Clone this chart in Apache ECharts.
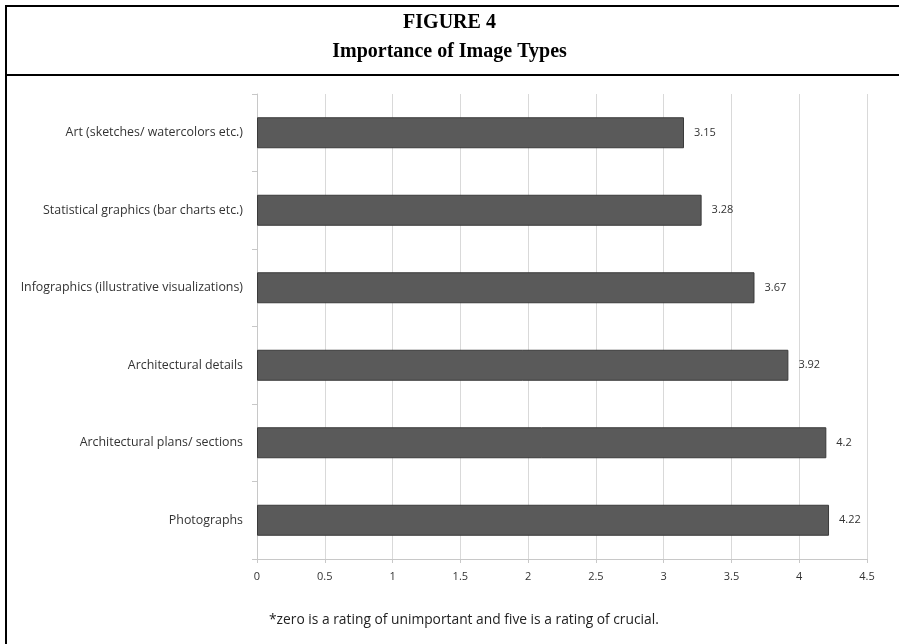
<!DOCTYPE html>
<html><head><meta charset="utf-8">
<script src="https://cdn.jsdelivr.net/npm/echarts@6/dist/echarts.min.js"></script>
<style>html,body{margin:0;padding:0;background:#fff}#c{width:899px;height:644px}</style>
</head><body><div id="c"></div>
<script>
const categories = [
  "Art (sketches/ watercolors etc.)",
  "Statistical graphics (bar charts etc.)",
  "Infographics (illustrative visualizations)",
  "Architectural details",
  "Architectural plans/ sections",
  "Photographs"
];
const values = [3.15, 3.28, 3.67, 3.92, 4.2, 4.22];
const xTicks = { min: 0, max: 4.5, interval: 0.5 };
const titleLine1 = "FIGURE 4";
const titleLine2 = "Importance of Image Types";
const footnote = "*zero is a rating of unimportant and five is a rating of crucial.";

const chart = echarts.init(document.getElementById('c'), null, {renderer: 'canvas'});
const labelFont = '"Open Sans", "Liberation Sans", sans-serif';
chart.setOption({
  animation: false,
  backgroundColor: '#fff',
  title: [
    { text: titleLine1, left: 'center', top: 8,
      textStyle: { fontFamily: '"Liberation Serif", serif', fontWeight: 'bold', fontSize: 20, color: '#000' } },
    { text: titleLine2, left: 'center', top: 37,
      textStyle: { fontFamily: '"Liberation Serif", serif', fontWeight: 'bold', fontSize: 20, color: '#000' } },
    { text: footnote, left: 264, top: 608,
      textStyle: { fontFamily: labelFont, fontWeight: 'normal', fontSize: 13.8, color: '#222' } }
  ],
  graphic: [
    { type: 'line', shape: { x1: 6, y1: 6, x2: 899, y2: 6 }, style: { stroke: '#000', lineWidth: 2 } },
    { type: 'line', shape: { x1: 6, y1: 75, x2: 899, y2: 75 }, style: { stroke: '#000', lineWidth: 2 } },
    { type: 'line', shape: { x1: 6, y1: 5, x2: 6, y2: 644 }, style: { stroke: '#000', lineWidth: 2 } }
  ],
  grid: { left: 257, right: 32, top: 94, bottom: 85, containLabel: false },
  xAxis: {
    type: 'value', min: xTicks.min, max: xTicks.max, interval: xTicks.interval,
    axisLine: { show: true, lineStyle: { color: '#c8c8c8', width: 1 } },
    axisTick: { show: true, length: 4, lineStyle: { color: '#c8c8c8' } },
    splitLine: { show: true, lineStyle: { color: '#d9d9d9', width: 1 } },
    axisLabel: { fontFamily: labelFont, fontSize: 11, color: '#333', margin: 12 }
  },
  yAxis: {
    type: 'category', data: categories, inverse: true,
    axisLine: { show: true, lineStyle: { color: '#c8c8c8', width: 1 } },
    axisTick: { show: true, length: 5, alignWithLabel: false, lineStyle: { color: '#c8c8c8' } },
    axisLabel: { fontFamily: labelFont, fontSize: 12.4, color: '#333', margin: 14 }
  },
  series: [{
    type: 'bar', data: values, barCategoryGap: '60%',
    itemStyle: { color: '#5a5a5a', borderColor: '#3a3a3a', borderWidth: 1 },
    label: { show: true, position: 'right', distance: 10, fontFamily: labelFont, fontSize: 11, color: '#333',
      formatter: p => String(p.value) }
  }]
});
</script></body></html>
